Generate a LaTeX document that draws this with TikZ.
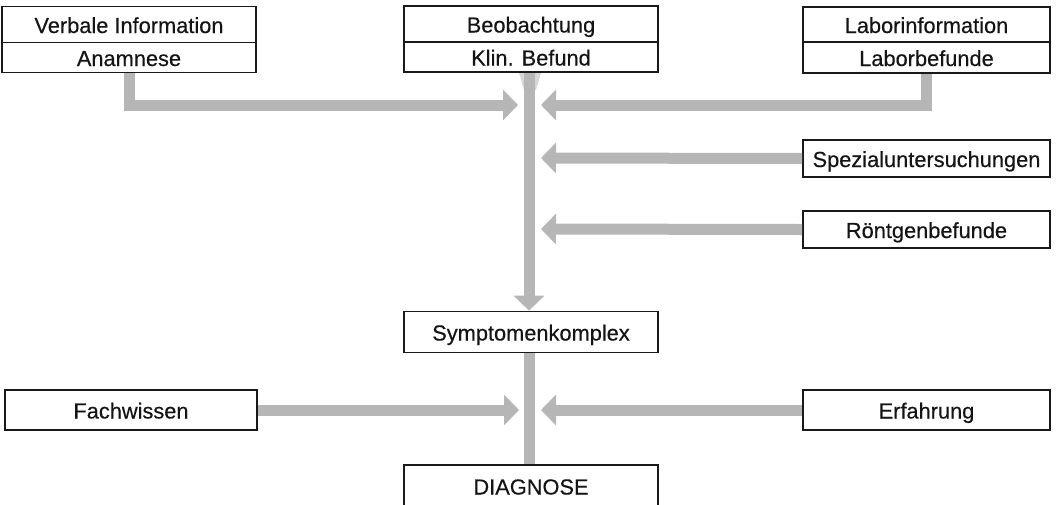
\documentclass[tikz,border=0pt]{standalone}
\usepackage{fontspec}
\setmainfont{Liberation Sans}
\newfontfamily\boxfont[FakeBold=0.35]{Liberation Sans}
\usetikzlibrary{arrows.meta}
\definecolor{flowgray}{RGB}{182,182,182}
\definecolor{faintgray}{RGB}{215,215,215}
\tikzset{
  box/.style={draw=black!90, line width=1.7pt, fill=white, inner sep=0pt,
    text height=21pt, text depth=4pt,
    font=\boxfont\fontsize{21.8}{24}\selectfont, text=black!92},
  flow/.style={draw=flowgray, line width=11pt,
    -{Triangle[width=30pt,length=15pt]}},
  bar/.style={draw=flowgray, line width=11pt}
}
\begin{document}
\begin{tikzpicture}[x=1pt,y=-1pt]
\useasboundingbox (0,0) rectangle (1059,504);
% boxes
\node[box, minimum width=254pt, minimum height=36pt] (verb) at (129,24.5) {Verbale Information};
\node[box, minimum width=254pt, minimum height=30pt] (ana) at (129,57.5) {Anamnese};
\node[box, minimum width=254pt, minimum height=36pt] (beo) at (531,24) {Beobachtung};
\node[box, minimum width=254pt, minimum height=30pt] (kli) at (531,57) {Klin. Befund};
\node[box, minimum width=247pt, minimum height=35pt] (labi) at (926.5,24.5) {Laborinformation};
\node[box, minimum width=247pt, minimum height=31pt] (labb) at (926.5,57.5) {Laborbefunde};
\node[box, minimum width=247pt, minimum height=37pt] (spez) at (926.5,158.5) {Spezialuntersuchungen};
\node[box, minimum width=247pt, minimum height=37pt] (roe) at (926.5,229.5) {Röntgenbefunde};
\node[box, minimum width=254pt, minimum height=41pt] (sym) at (531,332) {Symptomenkomplex};
\node[box, minimum width=252pt, minimum height=40pt] (fach) at (131,410) {Fachwissen};
\node[box, minimum width=247pt, minimum height=40pt] (erf) at (926.5,410) {Erfahrung};
\node[box, minimum width=254pt, minimum height=42pt] (diag) at (531,486) {DIAGNOSE};
% free ends of the side arrows
\coordinate (t1) at (518,105);
\coordinate (t2) at (541,105);
\coordinate (t3) at (541,158);
\coordinate (t4) at (541,229);
\coordinate (t5) at (519,410);
\coordinate (t6) at (541,410);
% faint flare under Klin. Befund
\fill[faintgray] (519,73) -- (541,73) -- (536,90) -- (524,90) -- cycle;
% connectors
\draw[flow] (kli.south -| 529,0) -- (sym.north -| 529,0);
\draw[bar] (sym.south -| 529,0) -- (diag.north -| 529,0);
\draw[flow] (ana.south) |- (t1);
\draw[flow] (labb.south) |- (t2);
\draw[flow] (spez.west) -- (t3);
\draw[flow] (roe.west) -- (t4);
\draw[flow] (fach.east) -- (t5);
\draw[flow] (erf.west) -- (t6);
\end{tikzpicture}
\end{document}
